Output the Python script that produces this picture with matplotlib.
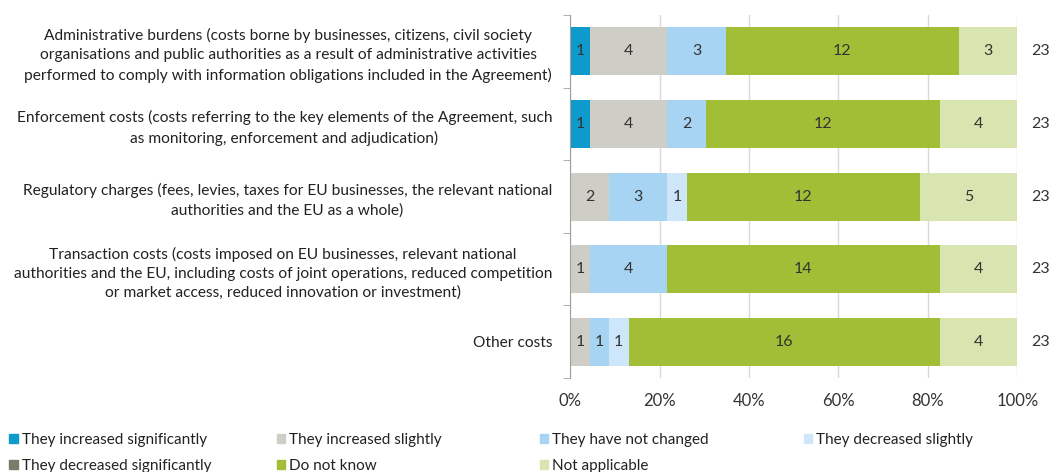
import numpy as np
import matplotlib
matplotlib.use("Agg")
from matplotlib import pyplot as plt
from matplotlib.patches import Patch

plt.rcParams['font.family'] = ['Lato', 'DejaVu Sans']

CATEGORIES = [
    "Administrative burdens (costs borne by businesses, citizens, civil society\n"
    "organisations and public authorities as a result of administrative activities\n"
    "performed to comply with information obligations included in the Agreement)",
    "Enforcement costs (costs referring to the key elements of the Agreement, such\n"
    "as monitoring, enforcement and adjudication)",
    "Regulatory charges (fees, levies, taxes for EU businesses, the relevant national\n"
    "authorities and the EU as a whole)",
    "Transaction costs (costs imposed on EU businesses, relevant national\n"
    "authorities and the EU, including costs of joint operations, reduced competition\n"
    "or market access, reduced innovation or investment)",
    "Other costs",
]

SERIES = [
    "They increased significantly",
    "They increased slightly",
    "They have not changed",
    "They decreased slightly",
    "They decreased significantly",
    "Do not know",
    "Not applicable",
]

# counts per category, one list per series
inc_sig = [1, 1, 0, 0, 0]
inc_slight = [4, 4, 2, 1, 1]
not_changed = [3, 2, 3, 4, 1]
dec_slight = [0, 0, 1, 0, 1]
dec_sig = [0, 0, 0, 0, 0]
dont_know = [12, 12, 12, 14, 16]
not_applicable = [3, 4, 5, 4, 4]

COLORS = ["#0e9acb", "#cfcec6", "#a8d4f3", "#cde6f9", "#7b7b6b", "#a1be36", "#d9e5b1"]

values = np.array([inc_sig, inc_slight, not_changed, dec_slight, dec_sig,
                   dont_know, not_applicable], dtype=float)
totals = values.sum(axis=0)
shares = values / totals * 100

fig = plt.figure(figsize=(10.52, 4.72), dpi=100)
ax = fig.add_axes([0.542, 0.199, 0.425, 0.769])

y = np.arange(len(CATEGORIES))
left = np.zeros(len(CATEGORIES))
for k, name in enumerate(SERIES):
    ax.barh(y, shares[k], left=left, height=0.66, color=COLORS[k], label=name, zorder=2)
    for i in range(len(CATEGORIES)):
        if values[k, i] > 0:
            ax.text(left[i] + shares[k, i] / 2, y[i], f"{int(values[k, i])}",
                    ha='center', va='center', fontsize=11.5, color='#333333', zorder=3)
    left += shares[k]

for i in range(len(CATEGORIES)):
    ax.text(103.2, y[i], f"{int(totals[i])}", ha='left', va='center',
            fontsize=11.5, color='#333333')

ax.set_xlim(0, 100)
ax.set_ylim(len(CATEGORIES) - 0.5, -0.5)
ax.set_xticks(np.arange(0, 101, 20))
ax.set_xticklabels([f"{v}%" for v in range(0, 101, 20)], fontsize=12, color='#333333')
ax.set_yticks(y)
ax.set_yticklabels(CATEGORIES, fontsize=11.2, color='#222222', linespacing=1.45,
                   multialignment='center')
ax.set_yticks(np.arange(-0.5, len(CATEGORIES), 1), minor=True)
ax.tick_params(axis='y', which='major', length=0, pad=13)
ax.tick_params(axis='y', which='minor', length=5, color='#a0a0a0')
ax.tick_params(axis='x', length=0, pad=11)
ax.grid(axis='x', color='#d9d9d9', linewidth=1, zorder=0)
for side in ['top', 'right', 'bottom']:
    ax.spines[side].set_visible(False)
ax.spines['left'].set_color('#a0a0a0')

# legend, four evenly spaced columns
handles = [Patch(color=c) for c in COLORS]
columns = [[0, 4], [1, 5], [2, 6], [3]]
col_x = [0.009, 0.263, 0.513, 0.764]
for cx, idx in zip(col_x, columns):
    fig.legend([handles[i] for i in idx], [SERIES[i] for i in idx],
               loc='upper left', bbox_to_anchor=(cx, 0.083), frameon=False,
               fontsize=11, handlelength=0.55, handleheight=0.55, handletextpad=0.25,
               labelspacing=0.8, borderaxespad=0, borderpad=0, labelcolor='#222222')

fig.savefig("out.png", dpi=100)
